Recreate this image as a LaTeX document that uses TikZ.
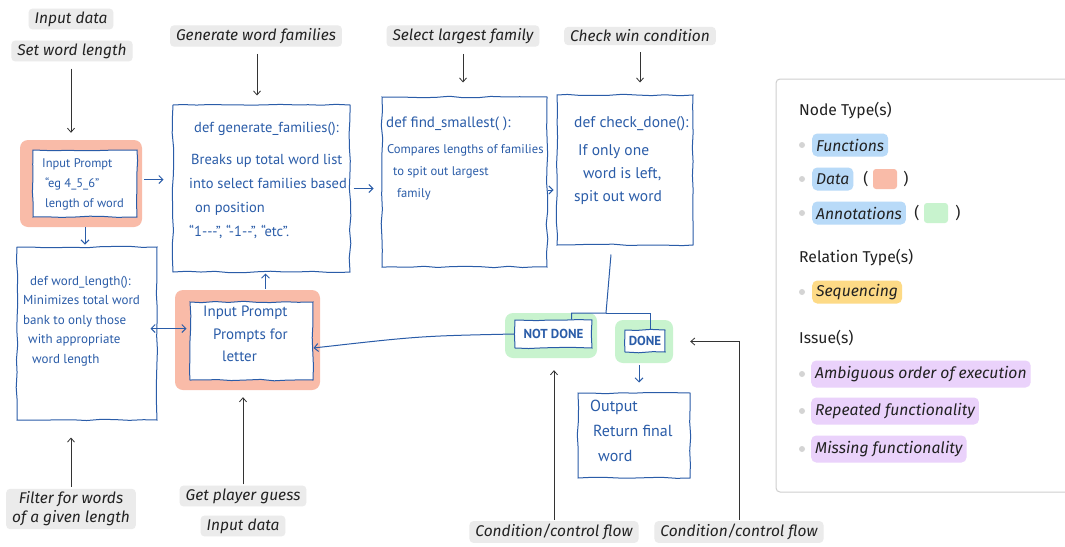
\documentclass[tikz,border=0pt]{standalone}
\usepackage{fontspec}
\setmainfont{Fira Sans}
\newfontfamily\hand{PT Sans}
\usetikzlibrary{arrows.meta,calc,decorations.pathmorphing}
\definecolor{hblue}{HTML}{2A5CA8}
\definecolor{salmon}{HTML}{F9BBA8}
\definecolor{mint}{HTML}{C8F3CE}
\definecolor{lgrey}{HTML}{EBEBEB}
\definecolor{pblue}{HTML}{B8DAF8}
\definecolor{pyellow}{HTML}{FDDA86}
\definecolor{plav}{HTML}{EAD2FB}
\definecolor{bdot}{HTML}{D4D4D4}
\definecolor{frame}{HTML}{CFCFCF}
\definecolor{ink}{HTML}{222222}
\pgfmathsetseed{7}
\newcommand\hf[2]{\hand\fontsize{#1}{#2}\selectfont}
\begin{document}
\begin{tikzpicture}[x=1pt,y=-1pt,
  lbl/.style={fill=lgrey, rounded corners=4pt, inner xsep=6pt, inner ysep=3pt, font=\fontsize{15.5}{19}\selectfont\itshape, text=ink, align=center},
  hbox/.style={draw=hblue, line width=1pt, decorate, decoration={random steps, segment length=14pt, amplitude=0.8pt}},
  wbox/.style={hbox, fill=white},
  htext/.style={text=hblue, align=left, anchor=north west, inner sep=0pt},
  salm/.style={fill=salmon, rounded corners=8pt},
  grn/.style={fill=mint, rounded corners=8pt},
  note/.style={draw=black!80, line width=0.8pt, -{Straight Barb[length=4pt,width=7pt]}},
  harr/.style={draw=hblue, line width=1pt, -{Straight Barb[length=4pt,width=8pt]}},
  hline/.style={draw=hblue, line width=1pt},
  pill/.style={rounded corners=5pt, inner xsep=4pt, minimum height=23pt, font=\fontsize{15.7}{19}\selectfont\itshape, anchor=west, text=ink},
  bul/.style={circle, fill=bdot, inner sep=0pt, minimum size=6pt},
  head/.style={font=\fontsize{15.7}{19}\selectfont, anchor=west, text=ink, inner sep=0pt},
  par/.style={font=\fontsize{15.7}{19}\selectfont, text=ink, inner sep=0pt}
]
\useasboundingbox (0,0) rectangle (1065,546);
\fill[white] (0,0) rectangle (1065,546);

% ---------- top annotation labels ----------
\node[lbl] (ind1) at (71,19) {Input data};
\node[lbl] (swl) at (72,51) {Set word length};
\node[lbl] (gwf) at (256,36) {Generate word families};
\node[lbl] (slf) at (463,36) {Select largest family};
\node[lbl] (cwc) at (640,36) {Check win condition};

% ---------- bottom annotation labels ----------
\node[lbl] (flt) at (71,509) {Filter for words\\of a given length};
\node[lbl] (gpg) at (243,496) {Get player guess};
\node[lbl] (ind2) at (243,526) {Input data};
\node[lbl] (ccf1) at (554,532) {Condition/control flow};
\node[lbl] (ccf2) at (739,532) {Condition/control flow};

% ---------- data box 1 ----------
\node[salm, minimum width=122pt, minimum height=87pt] (p1o) at (81,183.5) {};
\node[wbox, minimum width=104pt, minimum height=67pt] (p1i) at (85,183.5) {};
\node[htext, font=\hf{12.5}{20}] (p1t) at (42,158) {Input Prompt\\ \hspace{3pt}“eg 4\_5\_6”\\ \hspace{3pt}length of word};

% ---------- generate_families ----------
\node[hbox, minimum width=177pt, minimum height=167pt] (gen) at (261.5,188.5) {};
\node[htext, font=\hf{14.5}{24}] (gent) at (189,122) {\hspace{5pt}def generate\_families():\\[8pt]\hspace{2pt}Breaks up total word list\\into select families based\\ \hspace{6pt}on position\\“1-{}-{}-”, “-1-{}-”, “etc”.};

% ---------- word_length ----------
\node[hbox, minimum width=140pt, minimum height=173pt] (wl) at (87,333.5) {};
\node[htext, font=\hf{13}{19.5}] (wlt) at (23,276) {\hspace{7pt}def word\_length():\\Minimizes total word\\bank to only those\\ \hspace{5pt}with appropriate\\ \hspace{9pt}word length};

% ---------- data box 2 ----------
\node[salm, minimum width=145pt, minimum height=100pt] (p2o) at (247.5,340) {};
\node[wbox, minimum width=123pt, minimum height=78pt] (p2i) at (251.5,341) {};
\node[htext, font=\hf{15}{22.5}] (p2t) at (203,306) {Input Prompt\\ \hspace{10pt}Prompts for\\ \hspace{19pt}letter};

% ---------- find_smallest ----------
\node[hbox, minimum width=165pt, minimum height=170pt] (fnd) at (464.5,182) {};
\node[htext, font=\hf{12.6}{22}] (fndt) at (386,117) {{\fontsize{15}{22}\selectfont def find\_smallest( ):}\\[4pt]\hspace{1pt}Compares lengths of families\\ \hspace{7pt}to spit out largest\\ \hspace{11pt}family};

% ---------- check_done ----------
\node[hbox, minimum width=136pt, minimum height=150pt] (chk) at (625,170) {};
\node[htext, font=\hf{15.5}{23}] (chkt) at (574,116) {def check\_done():\\[5pt]\hspace{4pt}If only one\\ \hspace{9pt}word is left,\\spit out word};

% ---------- NOT DONE / DONE ----------
\node[grn, minimum width=92pt, minimum height=45pt] (ndo) at (551,335.5) {};
\node[wbox, minimum width=77pt, minimum height=28pt, inner sep=1pt, text=hblue, font=\hf{13}{15}\bfseries] (ndi) at (553.5,334) {NOT DONE};
\node[grn, minimum width=58pt, minimum height=43pt] (dno) at (644,341.5) {};
\node[wbox, minimum width=40pt, minimum height=22pt, inner sep=1pt, text=hblue, font=\hf{13}{15}\bfseries] (dni) at (645,341) {DONE};

% ---------- output ----------
\node[hbox, minimum width=112pt, minimum height=85pt] (out) at (634,435.5) {};
\node[htext, font=\hf{16}{25}] (outt) at (590,400) {Output\\ \hspace{3pt}Return final\\ \hspace{8pt}word};

% ---------- hand-drawn connectors ----------
\draw[harr, shorten <=2pt, shorten >=9pt] ([yshift=4pt]p1o.east) -- ([yshift=4pt]p1o.east -| gen.west);
\draw[harr, shorten >=2pt] ([xshift=4pt]p1o.south) -- ([xshift=4pt]p1o.south |- wl.north);
\draw[harr, shorten <=3pt, shorten >=8pt] (gen.east) -- (gen.east -| fnd.west);
\draw[harr, shorten <=0pt, shorten >=3pt] ([yshift=-8pt]fnd.east) -- ([yshift=-8pt]fnd.east -| chk.west);
\coordinate (fork) at (606,313);
\draw[hline] ([xshift=-14pt,yshift=-9pt]chk.south) -- (fork) -| ([xshift=18pt]ndi.north);
\draw[hline] (fork) -| ([xshift=5pt]dni.north);
\draw[harr] (ndi.west) .. controls (420,336) .. ([yshift=-7pt]p2i.east);
\draw[hblue, line width=1pt, {Straight Barb[length=4pt,width=8pt]}-{Straight Barb[length=4pt,width=8pt]}, shorten <=-7pt, shorten >=3pt] ([yshift=5pt]wl.east) -- ([yshift=5pt]wl.east -| p2i.west);
\draw[harr, shorten <=1pt, shorten >=1pt] ([xshift=18pt]p2o.north) -- ([xshift=18pt]p2o.north |- gen.south);
\draw[harr, shorten <=2pt, shorten >=10pt] ([xshift=-5pt]dno.south) -- ([xshift=-5pt]dno.south |- out.north);

% ---------- annotation connectors ----------
\draw[note, shorten <=7pt, shorten >=7pt] ([xshift=-1pt]swl.south) -- ([xshift=-1pt]swl.south |- p1o.north);
\draw[note, shorten <=7pt, shorten >=9pt] ([xshift=1pt]gwf.south) -- ([xshift=1pt]gwf.south |- gen.north);
\draw[note, shorten <=7pt, shorten >=14pt] (slf.south) -- (slf.south |- fnd.north);
\draw[note, shorten <=7pt, shorten >=12pt] (cwc.south) -- (cwc.south |- chk.north);
\draw[note, shorten <=2pt, shorten >=17pt] (flt.north) -- (flt.north |- wl.south);
\draw[note, shorten <=1pt, shorten >=7pt] (gpg.north) -- (gpg.north |- p2o.south);
\draw[note, shorten <=1pt, shorten >=12pt] (ccf1.north) -- (ccf1.north |- ndo.south);
\draw[note, shorten <=1pt, shorten >=17pt] (ccf2.north) |- (dno.east);

% ---------- legend ----------
\draw[frame, line width=1pt, rounded corners=4pt] (776,79) rectangle (1080,492);
\node[head] (hnt) at (799,111) {Node Type(s)};
\node[bul] (b1) at (802,145) {};
\node[pill, fill=pblue] (lfun) at (812,145) {Functions};
\node[bul] (b2) at (802,179) {};
\node[pill, fill=pblue] (ldat) at (812,179) {Data};
\node[par] (pa1) at (866,179) {(};
\node[fill=salmon, minimum width=24pt, minimum height=20pt, rounded corners=3pt, inner sep=0pt] (swd) at (885,179) {};
\node[par] (pb1) at (906,179) {)};
\node[bul] (b3) at (802,213) {};
\node[pill, fill=pblue] (lann) at (812,213) {Annotations};
\node[par] (pa2) at (917,213) {(};
\node[fill=mint, minimum width=24pt, minimum height=20pt, rounded corners=3pt, inner sep=0pt] (swg) at (936,213) {};
\node[par] (pb2) at (958,213) {)};
\node[head] (hrt) at (799,258) {Relation Type(s)};
\node[bul] (b4) at (802,292) {};
\node[pill, fill=pyellow] (lseq) at (812,292) {Sequencing};
\node[head] (his) at (799,338) {Issue(s)};
\node[bul] (b5) at (802,374) {};
\node[pill, fill=plav, minimum height=27pt] (lamb) at (811,374) {Ambiguous order of execution};
\node[bul] (b6) at (802,411) {};
\node[pill, fill=plav, minimum height=27pt] (lrep) at (811,411) {Repeated functionality};
\node[bul] (b7) at (802,449) {};
\node[pill, fill=plav, minimum height=27pt] (lmis) at (811,449) {Missing functionality};
\end{tikzpicture}
\end{document}
